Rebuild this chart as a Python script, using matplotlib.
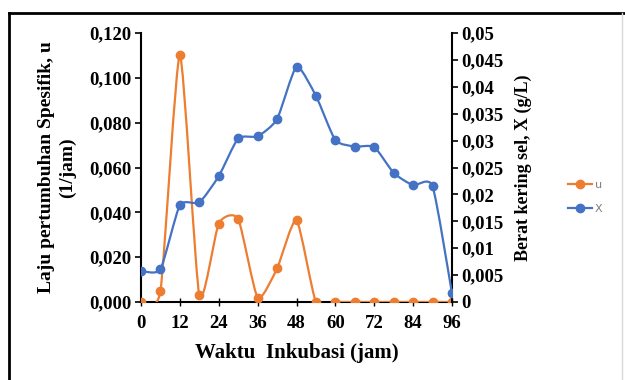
import numpy as np
import matplotlib
matplotlib.use("Agg")
import matplotlib.pyplot as plt
from matplotlib.path import Path
from matplotlib.patches import PathPatch
from matplotlib.lines import Line2D

# data
waktu = [0, 6, 12, 18, 24, 30, 36, 42, 48, 54, 60, 66, 72, 78, 84, 90, 96]
u = [0.000, 0.005, 0.110, 0.003, 0.035, 0.037, 0.002, 0.015, 0.0365, 0.000,
     0.000, 0.000, 0.000, 0.000, 0.000, 0.000, 0.000]
X = [0.0058, 0.0061, 0.0180, 0.0185, 0.0234, 0.0304, 0.0308, 0.0340, 0.0437,
     0.0383, 0.0301, 0.0289, 0.0288, 0.0240, 0.0217, 0.0215, 0.0016]

xticks = list(range(0, 97, 12))
left_ticks = [0, 0.02, 0.04, 0.06, 0.08, 0.10, 0.12]
left_labels = ['0,000', '0,020', '0,040', '0,060', '0,080', '0,100', '0,120']
right_ticks = [0, 0.005, 0.01, 0.015, 0.02, 0.025, 0.03, 0.035, 0.04, 0.045, 0.05]
right_labels = ['0', '0,005', '0,01', '0,015', '0,02', '0,025', '0,03',
                '0,035', '0,04', '0,045', '0,05']

ORANGE = '#ED7D31'
BLUE = '#4472C4'
serif = 'Liberation Serif'


def smooth_path(xs, ys, tension=0.1):
    # smoothed line like excel: catmull-rom drawn as bezier segments
    pts = np.column_stack([np.asarray(xs, float), np.asarray(ys, float)])
    verts = [pts[0]]
    codes = [Path.MOVETO]
    n = len(pts)
    for i in range(n - 1):
        p0 = pts[max(i - 1, 0)]
        p1 = pts[i]
        p2 = pts[i + 1]
        p3 = pts[min(i + 2, n - 1)]
        verts += [p1 + (p2 - p0) * tension, p2 - (p3 - p1) * tension, p2]
        codes += [Path.CURVE4] * 3
    return Path(verts, codes)


fig = plt.figure(figsize=(6.25, 3.8), dpi=100)
ax = fig.add_axes([141 / 625, 1 - 302 / 380, (452 - 141) / 625, (302 - 33) / 380])
ax2 = ax.twinx()

ax.set_xlim(0, 96)
ax.set_ylim(0, 0.12)
ax2.set_ylim(0, 0.05)

ax.add_patch(PathPatch(smooth_path(waktu, u), fill=False, color=ORANGE, lw=1.6, zorder=3))
ax.plot(waktu, u, 'o', color=ORANGE, ms=6, zorder=4)
ax2.add_patch(PathPatch(smooth_path(waktu, X), fill=False, color=BLUE, lw=1.6, zorder=3))
ax2.plot(waktu, X, 'o', color=BLUE, ms=6, zorder=4)

tick_font = dict(fontfamily=serif, fontweight='bold', fontsize=13.5)
ax.set_xticks(xticks)
ax.set_xticklabels([str(t) for t in xticks], **tick_font)
ax.set_yticks(left_ticks)
ax.set_yticklabels(left_labels, **tick_font)
ax2.set_yticks(right_ticks)
ax2.set_yticklabels(right_labels, **tick_font)

ax.tick_params(axis='x', direction='inout', length=6, width=1, pad=6)
ax.tick_params(axis='y', direction='out', length=4, width=1.2, pad=3)
ax2.tick_params(axis='y', direction='out', length=4, width=1.2, pad=3)

for a in (ax, ax2):
    a.spines['top'].set_visible(False)
    for s in ('left', 'right', 'bottom'):
        a.spines[s].set_linewidth(1.5)
ax.spines['right'].set_visible(False)
ax2.spines['left'].set_visible(False)
ax2.spines['bottom'].set_visible(False)

ax.set_xlabel('Waktu  Inkubasi (jam)', fontfamily=serif, fontweight='bold', fontsize=15, labelpad=8)
ax.set_ylabel('Laju pertumbuhan Spesifik, u\n(1/jam)', fontfamily=serif, fontweight='bold',
              fontsize=14, labelpad=9, linespacing=1.3)
ax2.set_ylabel('Berat kering sel, X (g/L)', fontfamily=serif, fontweight='bold', fontsize=13, labelpad=8)

handles = [Line2D([], [], color=ORANGE, marker='o', ms=6, lw=1.6),
           Line2D([], [], color=BLUE, marker='o', ms=6, lw=1.6)]
fig.legend(handles, ['u', 'X'], loc='center left', bbox_to_anchor=(558 / 625, 1 - 197 / 380),
           frameon=False, fontsize=8, handlelength=2.2, handletextpad=0.2,
           labelspacing=1.3, labelcolor='#7f7f7f')

# outer frame of the picture
fig.add_artist(Line2D([9 / 625, 625 / 625], [1 - 13 / 380] * 2, color='black', lw=2,
                      transform=fig.transFigure))
fig.add_artist(Line2D([9 / 625] * 2, [0, 1 - 13 / 380], color='black', lw=2,
                      transform=fig.transFigure))
fig.add_artist(Line2D([622 / 625] * 2, [0, 1 - 13 / 380], color='#d9d9d9', lw=1,
                      transform=fig.transFigure))

fig.savefig('out.png', dpi=100)
